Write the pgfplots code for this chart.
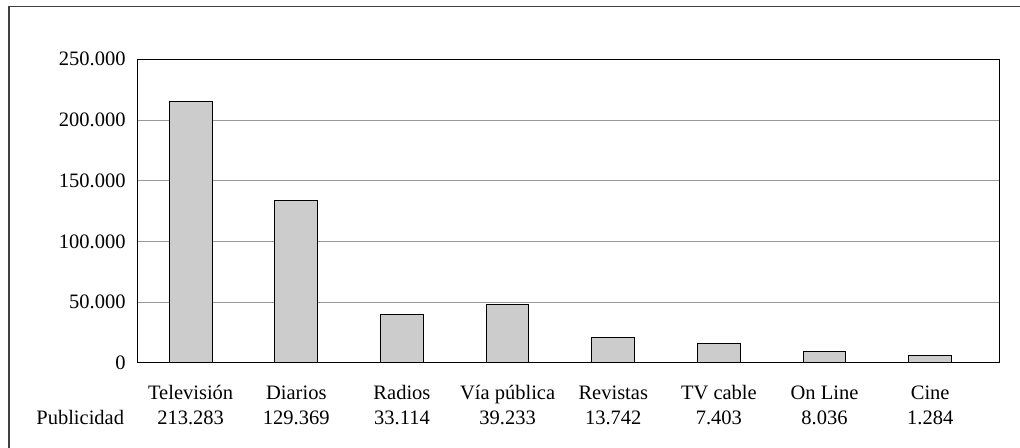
\documentclass[border=0pt]{standalone}
\usepackage{pgfplots}
\pgfplotsset{compat=1.18}
\usepackage{fontspec}
\setmainfont{Liberation Serif}
\newcommand{\lbl}{\fontsize{10.25pt}{12pt}\selectfont}
\begin{document}
\begin{tikzpicture}
\useasboundingbox (0,0) rectangle (510pt,224pt);
% outer frame (cut off at right and bottom)
\draw[line width=0.6pt, black!75] (4.5pt,-2pt) -- (4.5pt,220.85pt) -- (515pt,220.85pt);

\begin{axis}[
at={(68.65pt,42.5pt)},
anchor=south west,
width=431.2pt,
height=151.85pt,
scale only axis,
ybar,
bar width=21.35pt,
xmin=-0.505,
xmax=7.658,
ymin=0,
ymax=250000,
xtick=\empty,
ytick={0,50000,100000,150000,200000,250000},
yticklabels={0,50.000,100.000,150.000,200.000,250.000},
scaled y ticks=false,
major tick length=0pt,
ymajorgrids,
grid style={line width=0.5pt, color=black!40},
axis line style={line width=0.5pt, black},
yticklabel style={font=\lbl, anchor=east, inner sep=0pt, xshift=-5.65pt},
clip=false,
]
\addplot[fill=black!20, draw=black, line width=0.5pt] coordinates {
(0,215400) (1,133600) (2,40300) (3,48300) (4,20800) (5,15900) (6,9300) (7,6300)
};
\draw[line width=0.5pt, black] (rel axis cs:0,0) rectangle (rel axis cs:1,1);

\begin{scope}[every node/.style={font=\lbl, inner sep=0pt, anchor=base}]
\node[yshift=-18.15pt] at (axis cs:0,0) {Televisión};
\node[yshift=-18.15pt] at (axis cs:1,0) {Diarios};
\node[yshift=-18.15pt] at (axis cs:2,0) {Radios};
\node[yshift=-18.15pt] at (axis cs:3,0) {Vía pública};
\node[yshift=-18.15pt] at (axis cs:4,0) {Revistas};
\node[yshift=-18.15pt] at (axis cs:5,0) {TV cable};
\node[yshift=-18.15pt] at (axis cs:6,0) {On Line};
\node[yshift=-18.15pt] at (axis cs:7,0) {Cine};
\node[yshift=-30.65pt] at (axis cs:0,0) {213.283};
\node[yshift=-30.65pt] at (axis cs:1,0) {129.369};
\node[yshift=-30.65pt] at (axis cs:2,0) {33.114};
\node[yshift=-30.65pt] at (axis cs:3,0) {39.233};
\node[yshift=-30.65pt] at (axis cs:4,0) {13.742};
\node[yshift=-30.65pt] at (axis cs:5,0) {7.403};
\node[yshift=-30.65pt] at (axis cs:6,0) {8.036};
\node[yshift=-30.65pt] at (axis cs:7,0) {1.284};
\end{scope}
\end{axis}
\node[font=\lbl, inner sep=0pt, anchor=base west] at (18pt,11.85pt) {Publicidad};
\end{tikzpicture}
\end{document}
